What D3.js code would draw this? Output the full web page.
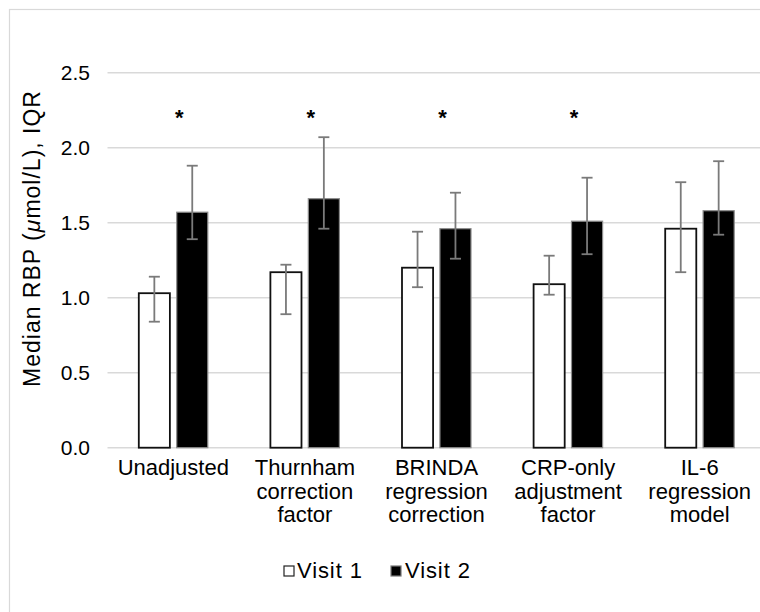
<html>
<head>
<script src="https://d3js.org/d3.v7.min.js"></script>
<style>
  body { margin: 0; background: #fff; }
  text { font-family: "Liberation Sans", Arial, Helvetica, sans-serif; }
</style>
</head>
<body>
<svg id="chart" width="760" height="612"></svg>
<script>
// data
var categories = ["Unadjusted", "Thurnham correction factor", "BRINDA regression correction",
  "CRP-only adjustment factor", "IL-6 regression model"];
var categoryLines = [["Unadjusted"], ["Thurnham", "correction", "factor"],
  ["BRINDA", "regression", "correction"], ["CRP-only", "adjustment", "factor"],
  ["IL-6", "regression", "model"]];
var series = ["Visit 1", "Visit 2"];
var visit1 = [1.03, 1.17, 1.20, 1.09, 1.46];
var visit1Low = [0.84, 0.89, 1.07, 1.02, 1.17];
var visit1High = [1.14, 1.22, 1.44, 1.28, 1.77];
var visit2 = [1.57, 1.66, 1.46, 1.51, 1.58];
var visit2Low = [1.39, 1.46, 1.26, 1.29, 1.42];
var visit2High = [1.88, 2.07, 1.70, 1.80, 1.91];
var significant = [true, true, true, true, false];
var yTicks = [0, 0.5, 1.0, 1.5, 2.0, 2.5];

var svg = d3.select("#chart");

// outer frame (chart is cropped on the right and bottom)
svg.append("rect")
  .attr("x", 9.5).attr("y", 9.5)
  .attr("width", 800).attr("height", 700)
  .attr("fill", "none")
  .attr("stroke", "#d9d9d9")
  .attr("stroke-width", 1.2);

var plotLeft = 107.5, plotRight = 765.5, plotTop = 72.7, plotBottom = 447.7;

var x0 = d3.scaleBand().domain(categories).range([plotLeft, plotRight]).padding(0);
var half = 34.5;
var x1 = d3.scaleBand().domain(series)
  .range([x0.bandwidth() / 2 - half, x0.bandwidth() / 2 + half])
  .paddingInner(0.18);
var y = d3.scaleLinear().domain([0, 2.5]).range([plotBottom, plotTop]);

// gridlines
svg.append("g")
  .selectAll("line")
  .data(yTicks)
  .enter()
  .append("line")
    .attr("x1", plotLeft).attr("x2", 760)
    .attr("y1", function(d) { return y(d); })
    .attr("y2", function(d) { return y(d); })
    .attr("stroke", "#d9d9d9")
    .attr("stroke-width", 1.5);

// y tick labels
svg.append("g")
  .selectAll("text")
  .data(yTicks)
  .enter()
  .append("text")
    .attr("x", 90)
    .attr("y", function(d) { return y(d) + 7.5; })
    .attr("text-anchor", "end")
    .style("font-size", "21px")
    .attr("fill", "#000")
    .text(function(d) { return d3.format(".1f")(d); });

// y title
var ytitle = svg.append("text")
  .attr("transform", "translate(40," + 238.5 + ") rotate(-90)")
  .attr("text-anchor", "middle")
  .style("font-size", "23px")
  .style("letter-spacing", "1px")
  .attr("fill", "#000");
ytitle.append("tspan").text("Median RBP (");
ytitle.append("tspan").style("font-style", "italic").text("\u03bc");
ytitle.append("tspan").text("mol/L), IQR");

// rows for bars
var rows = [];
categories.forEach(function(c, i) {
  rows.push({cat: c, s: "Visit 1", v: visit1[i], lo: visit1Low[i], hi: visit1High[i]});
  rows.push({cat: c, s: "Visit 2", v: visit2[i], lo: visit2Low[i], hi: visit2High[i]});
});

svg.append("g")
  .selectAll("rect")
  .data(rows)
  .enter()
  .append("rect")
    .attr("x", function(d) { return x0(d.cat) + x1(d.s); })
    .attr("y", function(d) { return y(d.v); })
    .attr("width", x1.bandwidth())
    .attr("height", function(d) { return y(0) - y(d.v); })
    .attr("fill", function(d) { return d.s == "Visit 1" ? "#fff" : "#000"; })
    .attr("stroke", function(d) { return d.s == "Visit 1" ? "#111" : "#8c8c8c"; })
    .attr("stroke-width", function(d) { return d.s == "Visit 1" ? 1.8 : 1.2; });

// error bars
var cap = 5.5;
var eb = svg.append("g")
  .attr("stroke", "#7a7a7a")
  .attr("stroke-width", 1.8);
var cx = function(d) { return x0(d.cat) + x1(d.s) + x1.bandwidth() / 2; };
eb.selectAll(".v").data(rows).enter().append("line")
  .attr("x1", cx).attr("x2", cx)
  .attr("y1", function(d) { return y(d.lo); })
  .attr("y2", function(d) { return y(d.hi); });
eb.selectAll(".t").data(rows).enter().append("line")
  .attr("x1", function(d) { return cx(d) - cap; })
  .attr("x2", function(d) { return cx(d) + cap; })
  .attr("y1", function(d) { return y(d.hi); })
  .attr("y2", function(d) { return y(d.hi); });
eb.selectAll(".b").data(rows).enter().append("line")
  .attr("x1", function(d) { return cx(d) - cap; })
  .attr("x2", function(d) { return cx(d) + cap; })
  .attr("y1", function(d) { return y(d.lo); })
  .attr("y2", function(d) { return y(d.lo); });

// significance stars
svg.append("g")
  .selectAll("text")
  .data(categories.filter(function(c, i) { return significant[i]; }))
  .enter()
  .append("text")
    .attr("x", function(d) { return x0(d) + x0.bandwidth() / 2 + 6; })
    .attr("y", 125)
    .attr("text-anchor", "middle")
    .style("font-size", "22px")
    .style("font-weight", "bold")
    .text("*");

// category labels
var cl = svg.append("g")
  .selectAll("text")
  .data(categories)
  .enter()
  .append("text")
    .attr("text-anchor", "middle")
    .style("font-size", "22px")
    .attr("fill", "#000");
cl.each(function(d, i) {
  var t = d3.select(this);
  categoryLines[i].forEach(function(line, k) {
    t.append("tspan")
      .attr("x", x0(d) + x0.bandwidth() / 2)
      .attr("y", 475 + k * 23.5)
      .text(line);
  });
});

// legend
var legend = [
  {label: "Visit 1", fill: "#fff", stroke: "#222", bx: 284, tx: 297},
  {label: "Visit 2", fill: "#000", stroke: "#777", bx: 391, tx: 405}
];
var lg = svg.append("g").selectAll("g").data(legend).enter().append("g");
lg.append("rect")
  .attr("x", function(d) { return d.bx; })
  .attr("y", 566)
  .attr("width", 10).attr("height", 10)
  .attr("fill", function(d) { return d.fill; })
  .attr("stroke", function(d) { return d.stroke; })
  .attr("stroke-width", 1.2);
lg.append("text")
  .attr("x", function(d) { return d.tx; })
  .attr("y", 578)
  .style("font-size", "22px")
  .style("letter-spacing", "0.9px")
  .text(function(d) { return d.label; });
</script>
</body>
</html>
